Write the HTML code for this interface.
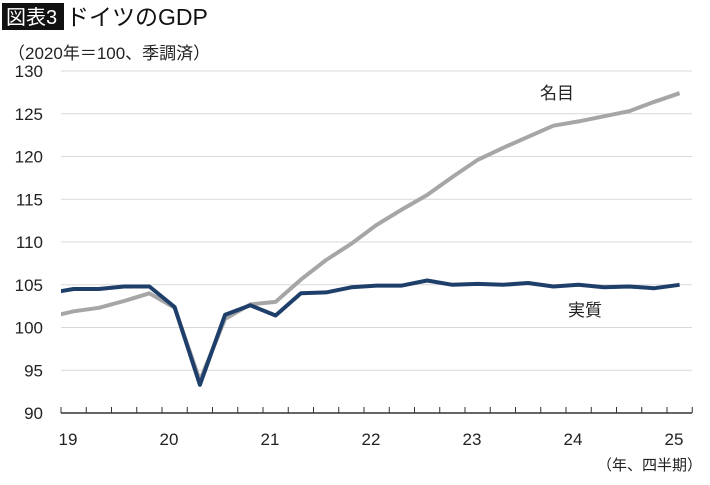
<!DOCTYPE html>
<html><head><meta charset="utf-8"><style>
body{margin:0;background:#fff;font-family:"Liberation Sans","Noto Sans CJK JP",sans-serif;}
svg text{font-family:"Liberation Sans","Noto Sans CJK JP",sans-serif;}
</style></head><body>
<svg id="c" width="710" height="480">
<rect x="2" y="3" width="62" height="27" fill="#111"/>
<text x="6" y="24" font-size="20" fill="#fff">図表3</text>
<text x="66" y="25" font-size="23" fill="#111">ドイツのGDP</text>
<text x="8" y="59" font-size="17" fill="#222">（2020年＝100、季調済）</text>
<text x="702" y="470" font-size="15" fill="#222" text-anchor="end">（年、四半期）</text>
<g id="grid"></g><g id="axis"></g><g id="lines"></g>
<text x="540" y="99" font-size="17" fill="#222">名目</text>
<text x="568" y="316" font-size="17" fill="#222">実質</text>
</svg>
<script>
const yTicks=[90,95,100,105,110,115,120,125,130];
const years=["19","20","21","22","23","24","25"];
// values start 2018Q4 (clipped at axis), then 2019Q1..2025Q1
const nominal=[101.2,101.9,102.3,103.1,104.0,102.3,93.8,101.0,102.7,103.0,105.6,107.9,109.8,112.0,113.8,115.5,117.6,119.6,121.0,122.3,123.6,124.1,124.7,125.3,126.4,127.4];
const real=[104.0,104.5,104.5,104.8,104.8,102.4,93.3,101.5,102.6,101.4,104.0,104.1,104.7,104.9,104.9,105.5,105.0,105.1,105.0,105.2,104.8,105.0,104.7,104.8,104.6,105.0];
const NS="http://www.w3.org/2000/svg";
const X0=61,QW=25.25,Y0=413,YU=8.55;
const xq=i=>X0+QW*(i-0.5);
const yv=v=>Y0-(v-90)*YU;
function mk(t,a,p){const e=document.createElementNS(NS,t);for(const k in a)e.setAttribute(k,a[k]);p.appendChild(e);return e;}
const grid=document.getElementById('grid'),axis=document.getElementById('axis'),lines=document.getElementById('lines');
yTicks.forEach(v=>{
 if(v>90){const l=mk('line',{x1:X0,x2:692,y1:yv(v),y2:yv(v),stroke:'#d9d9d9','stroke-width':1},grid);
 
 }
 const t=mk('text',{x:43,y:yv(v)+6,'font-size':17,'text-anchor':'end',fill:'#222'},axis);
 t.textContent=v;
 
 
});
const ax=mk('line',{x1:X0,x2:692,y1:Y0,y2:Y0,stroke:'#333','stroke-width':1.5},axis);


for(let q=0;q<=25;q++){const x=X0+QW*q;
 const tk=mk('line',{x1:x,x2:x,y1:Y0-6,y2:Y0,stroke:'#333','stroke-width':1},axis);
 
 }
years.forEach((y,i)=>{const t=mk('text',{x:X0+QW*4*i+7,y:445,'font-size':17,'text-anchor':'middle',fill:'#222'},axis);
 t.textContent=y;
 
 });
mk('clipPath',{id:'cp'},document.getElementById('c')).appendChild(document.createElementNS(NS,'rect'));
const cr=document.querySelector('#cp rect');cr.setAttribute('x',X0);cr.setAttribute('y',0);cr.setAttribute('width',700);cr.setAttribute('height',480);
function series(arr,col,name){
 const d=arr.map((v,i)=>(i?'L':'M')+xq(i).toFixed(1)+','+yv(v).toFixed(1)).join('');
 const p=mk('path',{d:d,fill:'none',stroke:col,'stroke-width':4,'stroke-linejoin':'round','clip-path':'url(#cp)'},lines);
 
 
}
series(nominal,'#a6a6a6','nominal-gdp-line');
series(real,'#1f3f6b','real-gdp-line');
</script>
</body></html>
